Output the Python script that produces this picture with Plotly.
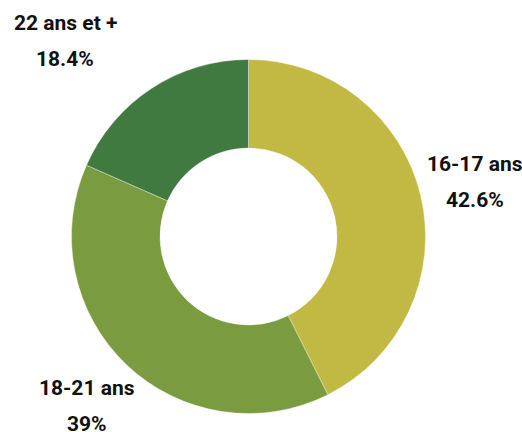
import plotly.graph_objects as go

categories = ["16-17 ans", "18-21 ans", "22 ans et +"]
values = [42.6, 39, 18.4]
value_labels = ["42.6%", "39%", "18.4%"]
colors = ["#C2B944", "#7A9B3F", "#417A40"]

W, H = 522, 432
# label centres in pixels (x, line1 y, line2 y)
label_pos = [(475, 164, 200), (87, 388, 424), (65, 23, 59)]

fig = go.Figure(go.Pie(
    labels=categories,
    values=values,
    hole=0.5,
    sort=False,
    direction="clockwise",
    rotation=0,
    marker=dict(colors=colors, line=dict(color="rgba(255,255,255,0.6)", width=0.6)),
    textinfo="none",
    hoverinfo="label+percent",
    domain=dict(x=[71.5 / W, 425.5 / W], y=[1 - 413.5 / H, 1 - 59.5 / H]),
    showlegend=False,
))

font = dict(family="Roboto, Arial, sans-serif", size=21, color="#111111")
for cat, vl, (x, y1, y2) in zip(categories, value_labels, label_pos):
    for txt, y in ((cat, y1), (vl, y2)):
        fig.add_annotation(text="<b>" + txt + "</b>", x=x / W, y=1 - y / H, xref="paper", yref="paper",
                           xanchor="center", yanchor="middle", showarrow=False, font=font)

fig.update_layout(width=W, height=H, margin=dict(l=0, r=0, t=0, b=0),
                  paper_bgcolor="white", plot_bgcolor="white")
fig.write_html("out.html", config={"displayModeBar": False},
               post_script="document.body.style.margin='0';document.body.style.overflow='hidden';")
